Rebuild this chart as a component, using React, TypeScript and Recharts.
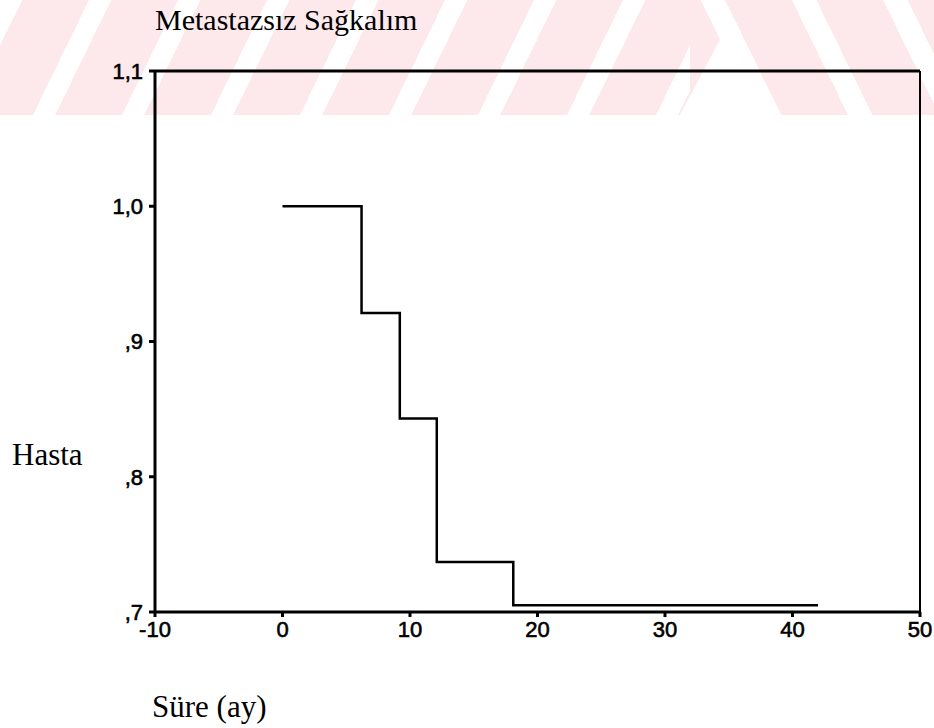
import { LineChart, Line, XAxis, YAxis, ReferenceLine } from "recharts";

// Kaplan-Meier estimate
const months = [0, 6.2, 9.2, 12.1, 18.1, 42];
const survival = [1.0, 0.921, 0.843, 0.737, 0.705, 0.705];
const xTicks = [-10, 0, 10, 20, 30, 40, 50];
const yTicks = [0.7, 0.8, 0.9, 1.0, 1.1];

const title = "Metastazsız Sağkalım";
const yLabel = "Hasta";
const xLabel = "Süre (ay)";

const data = months.map((t, i) => ({ t, s: survival[i] }));

const sans = "'Liberation Sans', Arial, sans-serif";
const serif = "'Liberation Serif', 'Times New Roman', serif";
const tickFont = { fontFamily: sans, fontSize: 22, fill: "#000", stroke: "#000", strokeWidth: 0.6 };

// comma decimals, leading zero dropped: 1,0  ,9  ,8
const fmtY = (v: number) => v.toFixed(1).replace(".", ",").replace(/^0/, "");

const pink = "#fde8ec";

export default function App() {
  return (
    <div
      style={{
        position: "absolute",
        left: 0,
        top: 0,
        width: 934,
        height: 728,
        background: "#fff",
        overflow: "hidden",
      }}
    >
      {/* faint watermark from the scanned page */}
      <div
        style={{
          position: "absolute",
          left: 0,
          top: 0,
          width: 690,
          height: 115,
          background: `repeating-linear-gradient(116deg, #fff 0px, #fff 20px, ${pink} 20px, ${pink} 80px)`,
        }}
      />
      <div
        style={{
          position: "absolute",
          left: 690,
          top: 0,
          width: 244,
          height: 115,
          background: `repeating-linear-gradient(64deg, ${pink} 0px, ${pink} 60px, #fff 60px, #fff 82px)`,
        }}
      />
      <div
        style={{
          position: "absolute",
          left: 680,
          top: 30,
          width: 90,
          height: 85,
          background: "#fff",
          clipPath: "polygon(50% 0, 100% 100%, 0 100%)",
        }}
      />
      <div style={{ position: "absolute", left: 0, top: 0 }}>
        <LineChart
          width={934}
          height={728}
          data={data}
          margin={{ top: 71, right: 14, bottom: 86, left: 0 }}
        >
          <XAxis
            dataKey="t"
            type="number"
            domain={[-10, 50]}
            ticks={xTicks}
            allowDataOverflow
            height={30}
            fontSize={22}
            fontFamily={sans}
            axisLine={{ stroke: "#000", strokeWidth: 3 }}
            tickLine={{ stroke: "#000", strokeWidth: 3 }}
            tickSize={5}
            tickMargin={4}
            tick={tickFont}
          />
          <YAxis
            type="number"
            domain={[0.7, 1.1]}
            ticks={yTicks}
            allowDataOverflow
            width={155}
            fontSize={22}
            fontFamily={sans}
            tickFormatter={fmtY}
            axisLine={{ stroke: "#000", strokeWidth: 3 }}
            tickLine={{ stroke: "#000", strokeWidth: 3 }}
            tickSize={6}
            tickMargin={6}
            tick={tickFont}
          />
          <ReferenceLine y={1.1} stroke="#000" strokeWidth={3} />
          <ReferenceLine x={50} stroke="#000" strokeWidth={2} />
          <Line
            type="stepAfter"
            dataKey="s"
            stroke="#000"
            strokeWidth={2.5}
            dot={false}
            activeDot={false}
            isAnimationActive={false}
          />
        </LineChart>
      </div>
      <svg
        width={934}
        height={728}
        style={{ position: "absolute", left: 0, top: 0, pointerEvents: "none" }}
      >
        <text x={155} y={30} fontFamily={serif} fontSize={30} fill="#000">
          {title}
        </text>
        <text x={12} y={465} fontFamily={serif} fontSize={31} fill="#000">
          {yLabel}
        </text>
        <text x={152} y={717} fontFamily={serif} fontSize={31} fill="#000">
          {xLabel}
        </text>
      </svg>
    </div>
  );
}
